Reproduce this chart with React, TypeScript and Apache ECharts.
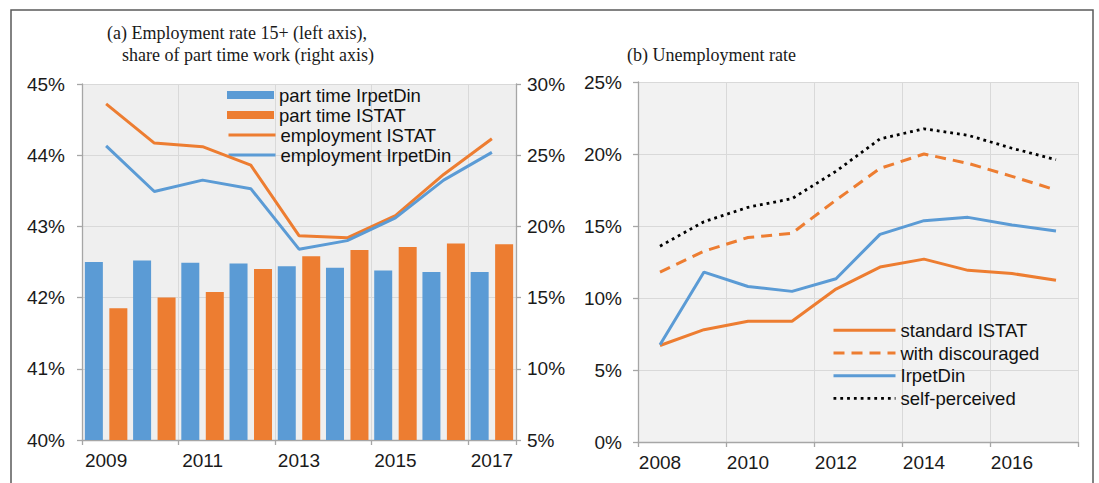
import React, { useEffect, useRef } from 'react';
import * as echarts from 'echarts';

// ---- Panel (a) data ----
const yearsA = ['2009', '2010', '2011', '2012', '2013', '2014', '2015', '2016', '2017'];
const partTimeIrpetDin = [17.5, 17.6, 17.45, 17.4, 17.2, 17.1, 16.9, 16.8, 16.8];
const partTimeISTAT = [14.25, 15.0, 15.4, 17.0, 17.9, 18.35, 18.55, 18.8, 18.75];
const employmentISTAT = [44.72, 44.17, 44.12, 43.86, 42.87, 42.84, 43.15, 43.73, 44.23];
const employmentIrpetDin = [44.13, 43.49, 43.65, 43.53, 42.68, 42.8, 43.12, 43.65, 44.04];

// ---- Panel (b) data ----
const yearsB = ['2008', '2009', '2010', '2011', '2012', '2013', '2014', '2015', '2016', '2017'];
const standardISTAT = [6.7, 7.8, 8.38, 8.38, 10.62, 12.15, 12.7, 11.92, 11.7, 11.23];
const withDiscouraged = [11.8, 13.25, 14.2, 14.5, 16.8, 19.0, 20.0, 19.35, 18.45, 17.5];
const irpetDin = [6.76, 11.8, 10.8, 10.46, 11.34, 14.42, 15.37, 15.6, 15.07, 14.65];
const selfPerceived = [13.6, 15.3, 16.3, 16.9, 18.8, 21.05, 21.75, 21.3, 20.4, 19.6];

const titleA1 = '(a) Employment rate 15+ (left axis),';
const titleA2 = 'share of part time work (right axis)';
const titleB = '(b) Unemployment rate';

const BLUE = '#5B9BD5';
const ORANGE = '#ED7D31';
const AXIS = '#a6a6a6';
const GRID = '#d9d9d9';
const SANS = 'Liberation Sans';
const SERIF = 'Liberation Serif';

export default function App() {
  const ref = useRef<HTMLDivElement>(null);

  useEffect(() => {
    if (!ref.current) return;
    const chart = echarts.init(ref.current, undefined, { renderer: 'svg' });

    const axisLabel = { fontFamily: SANS, fontSize: 19, color: '#1a1a1a' };
    const titleStyle = { fontFamily: SERIF, fontSize: 18, fontWeight: 'normal' as const, color: '#1a1a1a' };
    const legendText = { fontFamily: SANS, fontSize: 18.5, color: '#111' };

    const catAxis = (gridIndex: number, data: string[]) => ({
      type: 'category',
      gridIndex,
      data,
      boundaryGap: true,
      axisLine: { show: true, onZero: false, lineStyle: { color: AXIS, width: 1.3 } },
      axisTick: { show: true, interval: 1, length: 5, lineStyle: { color: AXIS, width: 1.3 } },
      axisLabel: { ...axisLabel, interval: 1, margin: 11 },
      splitLine: { show: true, interval: 1, lineStyle: { color: GRID, width: 1 } },
    });

    const option: any = {
      animation: false,
      backgroundColor: '#ffffff',
      title: [
        { text: titleA1, left: 107, top: 24, padding: 0, textStyle: titleStyle },
        { text: titleA2, left: 122, top: 46, padding: 0, textStyle: titleStyle },
        { text: titleB, left: 627, top: 46, padding: 0, textStyle: titleStyle },
      ],
      graphic: [
        {
          type: 'rect',
          silent: true,
          z: 100,
          shape: { x: 11, y: 10, width: 1082, height: 520 },
          style: { fill: 'none', stroke: '#5a5a5a', lineWidth: 1.5 },
        },
      ],
      grid: [
        { left: 82, top: 84, right: 1099 - 516, bottom: 483 - 440, show: true, backgroundColor: '#efefef', borderWidth: 0 },
        { left: 638, top: 82, right: 1099 - 1078, bottom: 483 - 442, show: true, backgroundColor: '#f2f2f2', borderWidth: 0 },
      ],
      legend: [
        {
          orient: 'vertical', left: 227, top: 85, padding: 0, itemGap: 0,
          itemWidth: 47, itemHeight: 8, icon: 'rect',
          data: ['part time IrpetDin', 'part time ISTAT'],
          textStyle: { ...legendText, lineHeight: 20 },
        },
        {
          orient: 'vertical', left: 227, top: 125, padding: 0, itemGap: 0,
          itemWidth: 47, itemHeight: 1,
          itemStyle: { opacity: 0 },
          lineStyle: { width: 'inherit' },
          data: ['employment ISTAT', 'employment IrpetDin'],
          textStyle: { ...legendText, lineHeight: 20 },
        },
        {
          orient: 'vertical', left: 832, top: 319, padding: 0, itemGap: 0,
          itemWidth: 62, itemHeight: 1,
          itemStyle: { opacity: 0 },
          lineStyle: { width: 'inherit' },
          data: ['standard ISTAT', 'with discouraged', 'IrpetDin', 'self-perceived'],
          textStyle: { ...legendText, lineHeight: 22.7 },
        },
      ],
      xAxis: [catAxis(0, yearsA), catAxis(1, yearsB)],
      yAxis: [
        {
          type: 'value', gridIndex: 0, position: 'left', min: 40, max: 45, interval: 1,
          axisLine: { show: true, lineStyle: { color: AXIS, width: 1.3 } },
          axisTick: { show: true, length: 5, lineStyle: { color: AXIS, width: 1.3 } },
          axisLabel: { ...axisLabel, margin: 17, formatter: '{value}%' },
          splitLine: { show: true, lineStyle: { color: GRID, width: 1 } },
        },
        {
          type: 'value', gridIndex: 0, position: 'right', min: 5, max: 30, interval: 5,
          axisLine: { show: true, lineStyle: { color: AXIS, width: 1.3 } },
          axisTick: { show: true, length: 5, lineStyle: { color: AXIS, width: 1.3 } },
          axisLabel: { ...axisLabel, margin: 11, formatter: '{value}%' },
          splitLine: { show: false },
        },
        {
          type: 'value', gridIndex: 1, position: 'left', min: 0, max: 25, interval: 5,
          axisLine: { show: true, lineStyle: { color: AXIS, width: 1.3 } },
          axisTick: { show: true, length: 5, lineStyle: { color: AXIS, width: 1.3 } },
          axisLabel: { ...axisLabel, margin: 16, formatter: '{value}%' },
          splitLine: { show: true, lineStyle: { color: GRID, width: 1 } },
        },
      ],
      series: [
        {
          name: 'part time IrpetDin', type: 'bar', xAxisIndex: 0, yAxisIndex: 1,
          data: partTimeIrpetDin, barWidth: 18, barGap: '36%', clip: true,
          itemStyle: { color: BLUE },
        },
        {
          name: 'part time ISTAT', type: 'bar', xAxisIndex: 0, yAxisIndex: 1,
          data: partTimeISTAT, barWidth: 18, barGap: '36%', clip: true,
          itemStyle: { color: ORANGE },
        },
        {
          name: 'employment ISTAT', type: 'line', xAxisIndex: 0, yAxisIndex: 0,
          data: employmentISTAT, symbol: 'none', z: 5,
          lineStyle: { color: ORANGE, width: 3 }, itemStyle: { color: ORANGE },
        },
        {
          name: 'employment IrpetDin', type: 'line', xAxisIndex: 0, yAxisIndex: 0,
          data: employmentIrpetDin, symbol: 'none', z: 5,
          lineStyle: { color: BLUE, width: 3 }, itemStyle: { color: BLUE },
        },
        {
          name: 'standard ISTAT', type: 'line', xAxisIndex: 1, yAxisIndex: 2,
          data: standardISTAT, symbol: 'none',
          lineStyle: { color: ORANGE, width: 3 }, itemStyle: { color: ORANGE },
        },
        {
          name: 'with discouraged', type: 'line', xAxisIndex: 1, yAxisIndex: 2,
          data: withDiscouraged, symbol: 'none',
          lineStyle: { color: ORANGE, width: 3, type: [11, 7] }, itemStyle: { color: ORANGE },
        },
        {
          name: 'IrpetDin', type: 'line', xAxisIndex: 1, yAxisIndex: 2,
          data: irpetDin, symbol: 'none',
          lineStyle: { color: BLUE, width: 3 }, itemStyle: { color: BLUE },
        },
        {
          name: 'self-perceived', type: 'line', xAxisIndex: 1, yAxisIndex: 2,
          data: selfPerceived, symbol: 'none',
          lineStyle: { color: '#000000', width: 2.8, type: [2.8, 4] }, itemStyle: { color: '#000000' },
        },
      ],
    };

    chart.setOption(option);
    return () => chart.dispose();
  }, []);

  return (
    <div
      ref={ref}
      style={{ position: 'fixed', left: 0, top: 0, width: 1099, height: 483, background: '#fff' }}
    />
  );
}
